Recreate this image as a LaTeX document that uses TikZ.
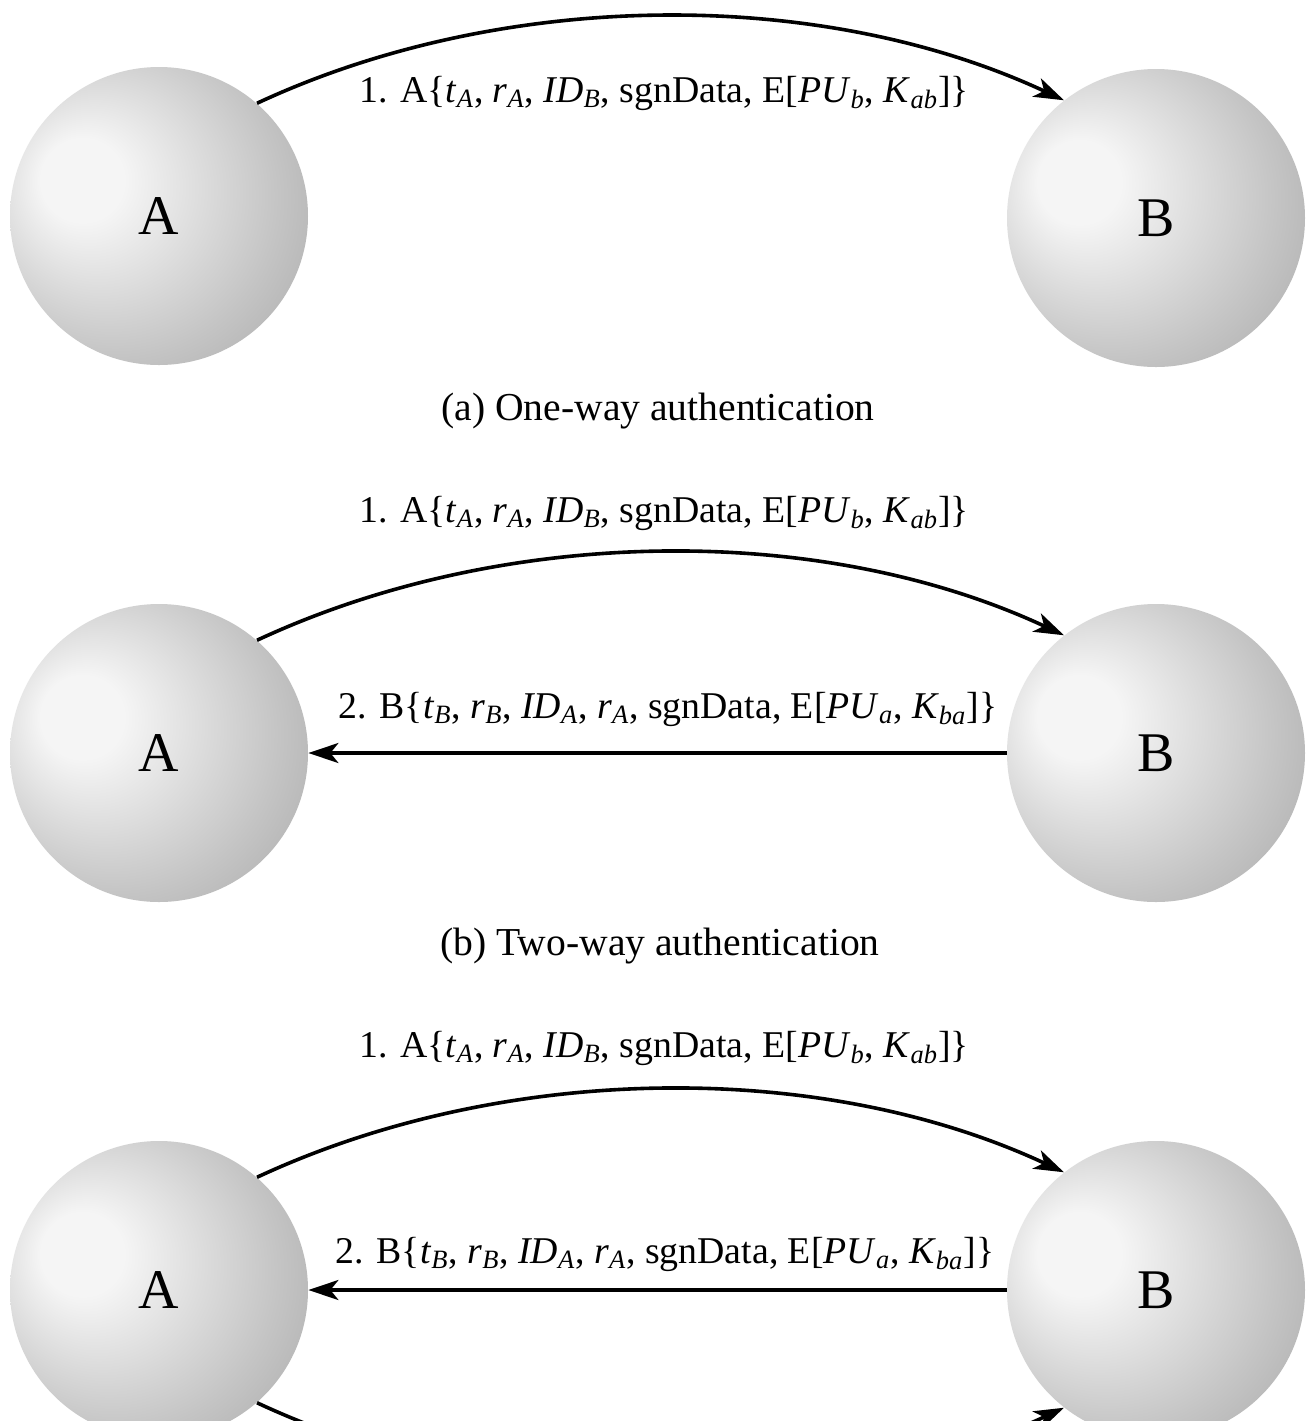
\documentclass[tikz,border=0pt]{standalone}
\usepackage{fontspec}
\setmainfont{Liberation Serif}
\usetikzlibrary{arrows.meta}
\definecolor{sphhi}{HTML}{F5F5F5}
\definecolor{sphmid}{HTML}{C4C4C4}
\definecolor{sphlo}{HTML}{A4A4A4}
\definecolor{sphedge}{HTML}{8A8A8A}
\pgfdeclareradialshading{sphereshade}{\pgfpoint{-15bp}{7bp}}{color(0bp)=(sphhi); color(7bp)=(sphhi); color(27bp)=(sphmid); color(41bp)=(sphlo); color(50bp)=(sphedge)}
\newcommand\sbs[1]{\textsubscript{\itshape #1}}
\newcommand\msgone{1. A\{\textit{t}\sbs{A}, \textit{r}\sbs{A}, \textit{ID}\sbs{B}, sgnData, E[\textit{PU}\sbs{b}, \textit{K}\sbs{ab}]\}}
\newcommand\msgtwo{2. B\{\textit{t}\sbs{B}, \textit{r}\sbs{B}, \textit{ID}\sbs{A}, \textit{r}\sbs{A}, sgnData, E[\textit{PU}\sbs{a}, \textit{K}\sbs{ba}]\}}
\begin{document}
\begin{tikzpicture}[x=0.5pt,y=-0.5pt,
  sphere/.style={circle, minimum size=149pt, inner sep=0pt, shading=sphereshade, font=\fontsize{28}{30}\selectfont},
  msg/.style={font=\fontsize{18.9}{20}\selectfont, anchor=base, inner sep=0pt},
  capt/.style={font=\fontsize{19.8}{21}\selectfont, anchor=base, inner sep=0pt},
  arr/.style={line width=1.8pt, -{Stealth[length=15pt,width=10pt,inset=4pt]}}]
\path[use as bounding box, clip] (0,0) rectangle (1309,1421);
\fill[white] (0,0) rectangle (1309,1421);
% row 1
\node[sphere] (A1) at (159,216) {A};
\node[sphere] (B1) at (1156,218) {B};
\draw[arr] (A1.49) .. controls +(-25:270) and +(-155:270) .. (B1.128);
\node[msg] (m11) at (664,102) {\msgone};
\node[capt] (ca) at (658,420) {(a) One-way authentication};
% row 2
\node[sphere] (A2) at (159,753) {A};
\node[sphere] (B2) at (1156,753) {B};
\draw[arr] (A2.49) .. controls +(-25:270) and +(-155:270) .. (B2.128);
\draw[arr] (B2.west) -- (A2.east);
\node[msg] (m21) at (664,522) {\msgone};
\node[msg] (m22) at (668,718) {\msgtwo};
\node[capt] (cb) at (660,955) {(b) Two-way authentication};
% row 3
\node[sphere] (A3) at (159,1290) {A};
\node[sphere] (B3) at (1156,1290) {B};
\draw[arr] (A3.49) .. controls +(-25:270) and +(-155:270) .. (B3.128);
\draw[arr] (B3.west) -- (A3.east);
\draw[arr] (A3.-49) .. controls +(25:270) and +(155:270) .. (B3.-128);
\node[msg] (m31) at (664,1057) {\msgone};
\node[msg] (m32) at (665,1263) {\msgtwo};
\end{tikzpicture}
\end{document}
